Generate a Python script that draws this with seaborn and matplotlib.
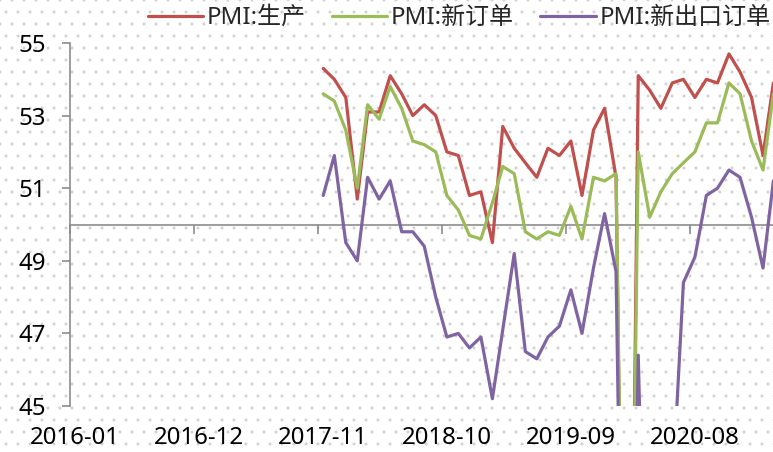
import matplotlib
matplotlib.use("Agg")
import matplotlib.pyplot as plt
import matplotlib.dates as mdates
import matplotlib.transforms as mtransforms
import numpy as np
import pandas as pd
import seaborn as sns

# ---------------- data ----------------
months = pd.date_range("2017-11-01", "2021-03-01", freq="MS").strftime("%Y-%m").tolist()

production = [54.3, 54.0, 53.5, 50.7, 53.1, 53.1, 54.1, 53.6, 53.0, 53.3,
              53.0, 52.0, 51.9, 50.8, 50.9, 49.5, 52.7, 52.1, 51.7, 51.3,
              52.1, 51.9, 52.3, 50.8, 52.6, 53.2, 51.3, 27.8, 54.1, 53.7,
              53.2, 53.9, 54.0, 53.5, 54.0, 53.9, 54.7, 54.2, 53.5, 51.9, 53.9]
new_orders = [53.6, 53.4, 52.6, 51.0, 53.3, 52.9, 53.8, 53.2, 52.3, 52.2,
              52.0, 50.8, 50.4, 49.7, 49.6, 50.6, 51.6, 51.4, 49.8, 49.6,
              49.8, 49.7, 50.5, 49.6, 51.3, 51.2, 51.4, 29.3, 52.0, 50.2,
              50.9, 51.4, 51.7, 52.0, 52.8, 52.8, 53.9, 53.6, 52.3, 51.5, 53.6]
new_export = [50.8, 51.9, 49.5, 49.0, 51.3, 50.7, 51.2, 49.8, 49.8, 49.4,
              48.0, 46.9, 47.0, 46.6, 46.9, 45.2, 47.1, 49.2, 46.5, 46.3,
              46.9, 47.2, 48.2, 47.0, 48.8, 50.3, 48.7, 28.7, 46.4, 33.5,
              35.3, 42.6, 48.4, 49.1, 50.8, 51.0, 51.5, 51.3, 50.2, 48.8, 51.2]

series_names = ["PMI:生产", "PMI:新订单", "PMI:新出口订单"]
colors = ["#C0504D", "#9BBB59", "#8064A2"]
tick_labels = ["2016-01", "2016-12", "2017-11", "2018-10", "2019-09", "2020-08"]
y_ticks = [45, 47, 49, 51, 53, 55]
y_range = (45, 55)
axis_cross = 50

# ---------------- frame ----------------
dates = pd.to_datetime(months, format="%Y-%m") + pd.Timedelta(days=14)
df = pd.concat([
    pd.DataFrame({"date": mdates.date2num(dates), "value": vals, "series": name})
    for name, vals in zip(series_names, [production, new_orders, new_export])
], ignore_index=True)

sns.set_style("white")
plt.rcParams["font.family"] = ["Noto Sans", "Noto Sans CJK SC", "DejaVu Sans"]
plt.rcParams["hatch.color"] = "#cfcfcf"
plt.rcParams["hatch.linewidth"] = 0.4

DPI = 72
W, H = 773, 452
fig = plt.figure(figsize=(W / DPI, H / DPI), dpi=DPI)
fig.patch.set_facecolor("white")
fig.patch.set_edgecolor("#cfcfcf")
fig.patch.set_linewidth(0)
fig.patch.set_hatch(".")

ax = fig.add_axes([70 / W, (H - 406) / H, (W - 70) / W, (406 - 43) / H])
ax.set_facecolor("none")

sns.lineplot(data=df, x="date", y="value", hue="series", hue_order=series_names,
             palette=colors, linewidth=3.2, estimator=None, sort=False, ax=ax)

handles, labels = ax.get_legend_handles_labels()
ax.get_legend().remove()
leg = fig.legend(handles, labels, loc="center", bbox_to_anchor=(459 / W, 1 - 18 / H),
                 ncol=3, frameon=False, fontsize=24, handlelength=2.3,
                 handletextpad=0.15, columnspacing=1.1, borderpad=0)
for h in leg.legend_handles:
    h.set_linewidth(3.2)

tick_pos = mdates.date2num(pd.to_datetime(tick_labels, format="%Y-%m"))
ax.set_ylim(*y_range)
ax.set_yticks(y_ticks)
ax.set_xlim(mdates.date2num(pd.Timestamp("2016-01-01")),
            mdates.date2num(pd.Timestamp("2021-03-14")))
ax.set_xticks(tick_pos)
ax.set_xticklabels(tick_labels)

spine_c = "#888888"
for s in ["top", "right", "bottom"]:
    ax.spines[s].set_visible(False)
ax.spines["left"].set_color(spine_c)
ax.spines["left"].set_linewidth(1.6)

ax.tick_params(axis="y", left=True, direction="out", length=8, width=1.6,
               color=spine_c, labelsize=24, pad=16, labelcolor="black")
ax.tick_params(axis="x", bottom=True, length=0, labelsize=24, pad=20,
               labelcolor="black")
shift = mtransforms.ScaledTranslation(5 / DPI, 0, fig.dpi_scale_trans)
for lbl in ax.get_xticklabels():
    lbl.set_transform(lbl.get_transform() + shift)
ax.set_xlabel("")
ax.set_ylabel("")
ax.grid(False)

# horizontal category axis crossing at 50 (bottom-aligned), with downward ticks
cross_frac = (axis_cross - y_range[0]) / (y_range[1] - y_range[0]) - 1e-6
sec = ax.secondary_xaxis(cross_frac)
sec.set_xticks(tick_pos)
sec.set_xticklabels([""] * len(tick_pos))
sec.tick_params(axis="x", bottom=True, top=False, direction="out", length=9,
                width=1.6, color=spine_c, labelbottom=False, labeltop=False)
for name, s in sec.spines.items():
    s.set_visible(name == "bottom")
sec.spines["bottom"].set_color(spine_c)
sec.spines["bottom"].set_linewidth(1.6)

fig.savefig("out.png", dpi=DPI)
